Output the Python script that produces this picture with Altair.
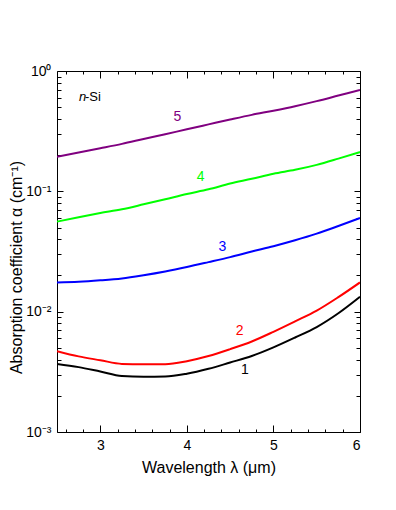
import altair as alt
import pandas as pd

# ---------------- data ----------------
wavelength = [2.5, 2.75, 3.0, 3.25, 3.5, 3.75, 4.0, 4.25, 4.5, 4.75, 5.0, 5.25, 5.5, 5.75, 6.0]
curve1 = [0.00368, 0.00346, 0.00318, 0.00292, 0.00288, 0.00289, 0.00305, 0.00335, 0.00378, 0.00428, 0.00505, 0.00610, 0.00745, 0.0097, 0.0133]
curve2 = [0.00470, 0.00425, 0.00395, 0.00368, 0.00365, 0.00366, 0.00388, 0.00428, 0.00488, 0.00565, 0.00680, 0.00830, 0.0102, 0.0132, 0.0175]
curve3 = [0.0175, 0.0177, 0.0182, 0.0189, 0.0201, 0.0216, 0.0235, 0.0258, 0.0284, 0.0316, 0.0350, 0.0392, 0.0445, 0.0515, 0.0600]
curve4 = [0.056, 0.061, 0.066, 0.071, 0.078, 0.086, 0.095, 0.104, 0.116, 0.127, 0.140, 0.151, 0.166, 0.187, 0.212]
curve5 = [0.194, 0.210, 0.228, 0.248, 0.272, 0.298, 0.328, 0.360, 0.395, 0.432, 0.468, 0.510, 0.562, 0.625, 0.695]

series_names = ["1", "2", "3", "4", "5"]
series_colors = ["#000000", "#ff0000", "#0000ff", "#00ff00", "#800080"]

label_x = [4.67, 4.61, 4.41, 4.16, 3.89]
label_y = [0.00327, 0.0069, 0.0345, 0.1315, 0.415]

x_major = [3, 4, 5, 6]
x_minor = [2.6, 2.8, 3.2, 3.4, 3.6, 3.8, 4.2, 4.4, 4.6, 4.8, 5.2, 5.4, 5.6, 5.8]
y_major = [0.001, 0.01, 0.1, 1]
y_major_labels = ["10⁻³", "10⁻²", "10⁻¹", "10⁰"]
y_minor = [k * 10.0 ** e for e in (-3, -2, -1) for k in range(2, 10)]

# ---------------- tables ----------------
curves = [curve1, curve2, curve3, curve4, curve5]
rows = []
for name, vals in zip(series_names, curves):
    for i, (w, v) in enumerate(zip(wavelength, vals)):
        rows.append({"series": name, "wl": w, "alpha": v, "order": i})
df = pd.DataFrame(rows)

labels_df = pd.DataFrame({"series": series_names, "wl": label_x, "alpha": label_y})

FONT = "Liberation Sans"
xscale = alt.Scale(domain=[2.5, 6], nice=False, zero=False)
yscale = alt.Scale(type="log", domain=[0.001, 1], nice=False)
cscale = alt.Scale(domain=series_names, range=series_colors)

label_expr = "[" + ",".join("'%s'" % s for s in y_major_labels) + "][round(log(datum.value)/LN10)+3]"

lines = alt.Chart(df).mark_line(strokeWidth=2, clip=True, interpolate="monotone").encode(
    x=alt.X("wl:Q", scale=xscale, axis=alt.Axis(
        orient="bottom", values=x_major, ticks=False, tickSize=0, domain=False, grid=False,
        labelPadding=6, labelFontSize=14, labelFont=FONT, labelColor="black",
        title="Wavelength λ (μm)", titleFont=FONT, titleFontSize=16, titleFontWeight="normal",
        titleColor="black", titlePadding=7)),
    y=alt.Y("alpha:Q", scale=yscale, axis=alt.Axis(
        orient="left", values=y_major, ticks=False, tickSize=0, domain=False, grid=False,
        labelExpr=label_expr, labelPadding=6, labelFontSize=14, labelFont=FONT, labelColor="black",
        title="Absorption coefficient α (cm⁻¹)", titleFont=FONT, titleFontSize=16,
        titleFontWeight="normal", titleColor="black", titleAngle=270,
        titleX=-33, titleY=196, titleBaseline="bottom", titleAlign="center")),
    color=alt.Color("series:N", scale=cscale, legend=None),
    detail="series:N",
    order="order:Q",
)

texts = alt.Chart(labels_df).mark_text(font=FONT, fontSize=14, baseline="middle", align="center").encode(
    x=alt.X("wl:Q", scale=xscale, axis=None),
    y=alt.Y("alpha:Q", scale=yscale, axis=None),
    color=alt.Color("series:N", scale=cscale, legend=None),
    text="series:N",
)

nsi_df = pd.DataFrame({"wl": [2.754, 2.823], "alpha": [0.612, 0.612], "t": ["n", "-Si"]})
nsi_n = alt.Chart(nsi_df.iloc[[0]]).mark_text(font=FONT, fontSize=13, fontStyle="italic", align="left",
                                               baseline="middle", color="black").encode(
    x=alt.X("wl:Q", scale=xscale, axis=None), y=alt.Y("alpha:Q", scale=yscale, axis=None), text="t:N")
nsi_s = alt.Chart(nsi_df.iloc[[1]]).mark_text(font=FONT, fontSize=13, align="left",
                                               baseline="middle", color="black").encode(
    x=alt.X("wl:Q", scale=xscale, axis=None), y=alt.Y("alpha:Q", scale=yscale, axis=None), text="t:N")


def tick_layer(xorient, yorient, xvals, yvals, xsize, ysize):
    return alt.Chart(df).mark_line(opacity=0).encode(
        x=alt.X("wl:Q", scale=xscale, axis=alt.Axis(
            orient=xorient, values=xvals, tickSize=xsize, offset=-xsize, labels=False,
            domain=False, grid=False, title=None, tickColor="black", tickWidth=1)),
        y=alt.Y("alpha:Q", scale=yscale, axis=alt.Axis(
            orient=yorient, values=yvals, tickSize=ysize, offset=-ysize, labels=False,
            domain=False, grid=False, title=None, tickColor="black", tickWidth=1)),
        detail="series:N",
    )


t1 = tick_layer("bottom", "left", x_major, y_major, 7, 6)
t2 = tick_layer("bottom", "left", x_minor, y_minor, 3, 4)
t3 = tick_layer("top", "right", x_major, y_major, 7, 6)
t4 = tick_layer("top", "right", x_minor, y_minor, 3, 4)

chart = alt.layer(lines, texts, nsi_n, nsi_s, t1, t2, t3, t4).resolve_axis(
    x="independent", y="independent"
).properties(
    width=303, height=361,
    autosize=alt.AutoSizeParams(type="none"),
    padding={"left": 49, "top": 63, "right": 20, "bottom": 60},
    background="white",
).configure_view(stroke="black", strokeWidth=1)

chart.save("out.html", embed_options={"renderer": "svg", "actions": False})
